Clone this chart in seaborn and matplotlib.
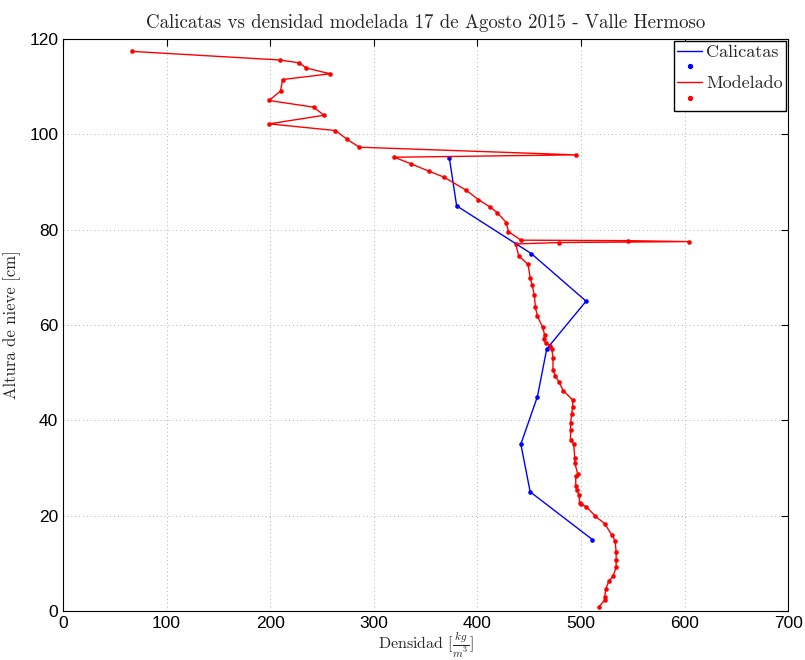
import matplotlib
matplotlib.use("Agg")
import matplotlib.pyplot as plt
from matplotlib.lines import Line2D
import seaborn as sns
import pandas as pd

# Calicatas (measured)
cal_density = [373, 380, 452, 505, 467, 458, 442, 451, 511]
cal_height = [95, 85, 75, 65, 55, 45, 35, 25, 15]

# Modelado (modelled)
mod_density = [67, 209, 228, 235, 258, 212, 210, 199, 242, 252, 199, 263, 274, 286,
               495, 320, 336, 353, 368, 389, 401, 412, 419, 428, 430, 442,
               545, 604, 479, 437, 440, 449, 451, 453, 455, 456, 458, 463, 465, 464,
               466, 470, 472, 473, 473, 475, 479, 483, 492, 492, 491, 490, 490, 490,
               493, 494, 494, 497, 495, 495, 496, 498, 499, 500, 505, 514, 523, 530,
               533, 534, 534, 534, 531, 527, 524, 523, 523, 517]
mod_height = [117.4, 115.6, 115.0, 113.9, 112.7, 111.5, 109.1, 107.1, 105.7, 104.0, 102.2, 100.8, 99.0, 97.3,
              95.7, 95.2, 93.8, 92.3, 91.0, 88.3, 86.3, 84.8, 83.6, 81.5, 79.6, 77.8,
              77.7, 77.5, 77.3, 77.0, 74.5, 72.7, 69.9, 68.3, 66.3, 63.7, 61.9, 59.5, 57.9, 57.1,
              56.2, 55.7, 54.9, 53.1, 50.6, 49.4, 48.0, 46.2, 44.3, 42.7, 41.3, 39.4, 38.0, 35.9,
              35.0, 32.2, 31.1, 28.7, 28.3, 26.3, 25.3, 24.4, 22.6, 22.4, 21.9, 19.9, 18.3, 15.9,
              14.7, 12.4, 10.7, 9.2, 7.3, 6.3, 4.6, 2.9, 2.3, 0.8]

x_ticks = [0, 100, 200, 300, 400, 500, 600, 700]
y_ticks = [0, 20, 40, 60, 80, 100, 120]

title = "Calicatas vs densidad modelada 17 de Agosto 2015 - Valle Hermoso"
xlabel = r"Densidad $[\frac{kg}{m^3}]$"
ylabel = "Altura de nieve [cm]"

sns.set_style("white")
plt.rcParams["mathtext.fontset"] = "cm"
plt.rcParams["font.family"] = ["Liberation Sans", "DejaVu Sans"]

cal = pd.DataFrame({"d": cal_density, "h": cal_height})
mod = pd.DataFrame({"d": mod_density, "h": mod_height})

fig = plt.figure(figsize=(8.05, 6.6), dpi=100)
ax = fig.add_axes([0.0783, 0.0742, 0.9007, 0.8667])

blue = "#0000ff"
red = "#ff0000"

sns.lineplot(data=cal, x="d", y="h", sort=False, estimator=None, color=blue,
             linewidth=1.0, ax=ax)
sns.scatterplot(data=cal, x="d", y="h", color=blue, s=11, linewidth=0, ax=ax)
sns.lineplot(data=mod, x="d", y="h", sort=False, estimator=None, color=red,
             linewidth=1.0, ax=ax)
sns.scatterplot(data=mod, x="d", y="h", color=red, s=11, linewidth=0, ax=ax)

ax.set_xlim(0, 700)
ax.set_ylim(0, 120)
ax.set_xticks(x_ticks)
ax.set_yticks(y_ticks)
ax.tick_params(direction="in", length=5, width=0.8, labelsize=12.5, top=True, right=True,
               colors="black")
ax.grid(True, linestyle=(0, (1, 3)), color="#b0b0b0", linewidth=0.7)
for s in ax.spines.values():
    s.set_color("black")
    s.set_linewidth(0.8)

serif = ["cmr10", "DejaVu Serif"]
ax.set_title(title, family=serif, fontsize=13.6, pad=8)
ax.set_xlabel(xlabel, family=serif, fontsize=11.5, labelpad=0)
ax.set_ylabel(ylabel, family=serif, fontsize=12, labelpad=6)

handles = [Line2D([], [], color=blue, lw=1.0),
           Line2D([], [], color=blue, lw=0, marker="o", markersize=2.8),
           Line2D([], [], color=red, lw=1.0),
           Line2D([], [], color=red, lw=0, marker="o", markersize=2.8)]
labels = ["Calicatas", "", "Modelado", ""]
leg = ax.legend(handles, labels, loc="upper right", prop={"family": serif, "size": 13},
                frameon=True, fancybox=False, framealpha=1, edgecolor="black",
                borderaxespad=0.1, handlelength=1.4, handletextpad=0.2,
                labelspacing=0.0, borderpad=0.2)
leg.get_frame().set_linewidth(1.0)

fig.savefig("out.png", dpi=100)
